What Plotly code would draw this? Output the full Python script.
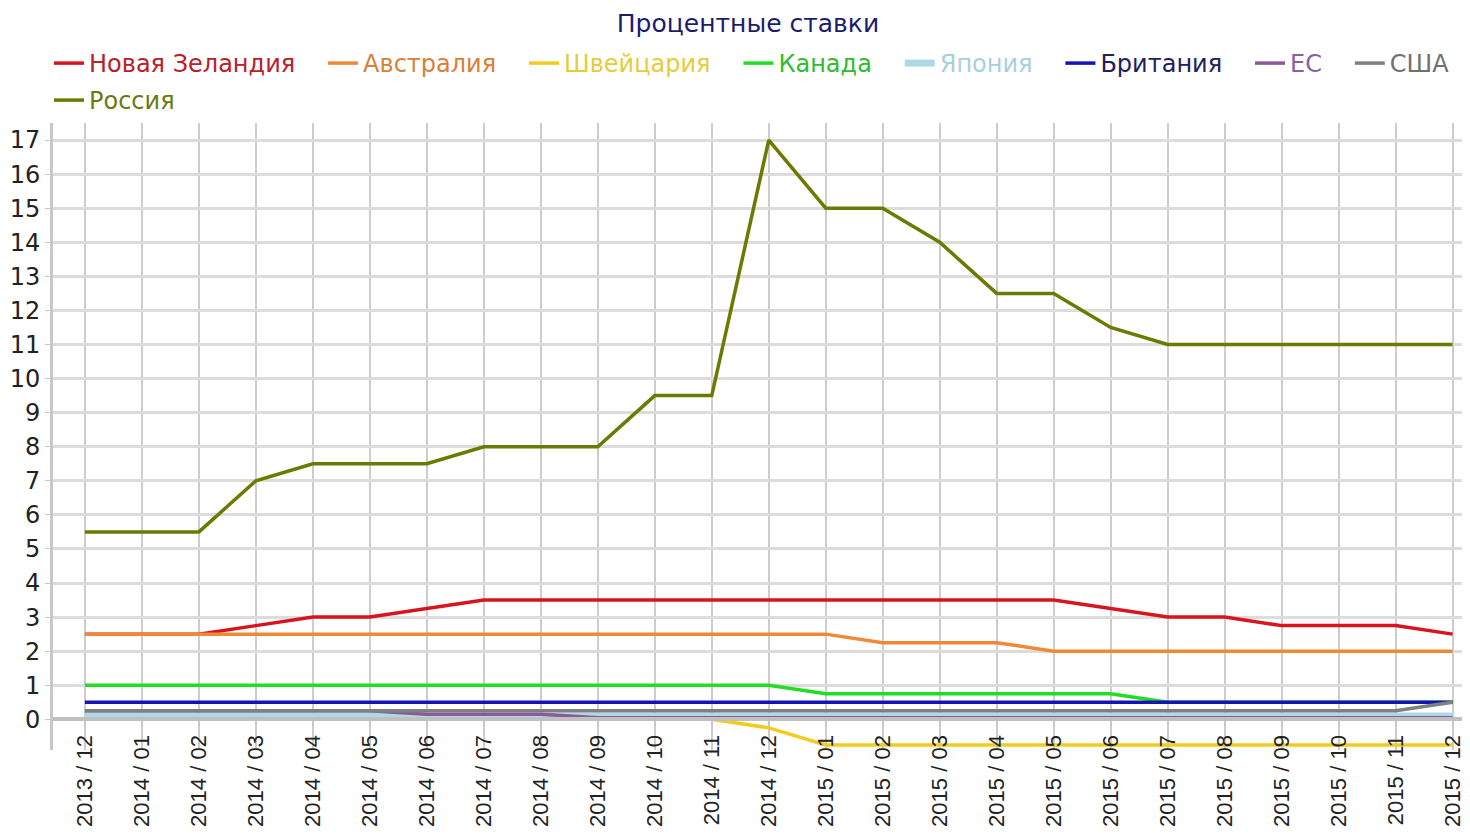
import plotly.graph_objects as go

months = ["2013 / 12", "2014 / 01", "2014 / 02", "2014 / 03", "2014 / 04", "2014 / 05",
          "2014 / 06", "2014 / 07", "2014 / 08", "2014 / 09", "2014 / 10", "2014 / 11",
          "2014 / 12", "2015 / 01", "2015 / 02", "2015 / 03", "2015 / 04", "2015 / 05",
          "2015 / 06", "2015 / 07", "2015 / 08", "2015 / 09", "2015 / 10", "2015 / 11",
          "2015 / 12"]

new_zealand = [2.5, 2.5, 2.5, 2.75, 3.0, 3.0, 3.25, 3.5, 3.5, 3.5, 3.5, 3.5, 3.5, 3.5, 3.5,
               3.5, 3.5, 3.5, 3.25, 3.0, 3.0, 2.75, 2.75, 2.75, 2.5]
australia = [2.5, 2.5, 2.5, 2.5, 2.5, 2.5, 2.5, 2.5, 2.5, 2.5, 2.5, 2.5, 2.5, 2.5, 2.25,
             2.25, 2.25, 2.0, 2.0, 2.0, 2.0, 2.0, 2.0, 2.0, 2.0]
switzerland = [0.0, 0.0, 0.0, 0.0, 0.0, 0.0, 0.0, 0.0, 0.0, 0.0, 0.0, 0.0, -0.25, -0.75, -0.75,
               -0.75, -0.75, -0.75, -0.75, -0.75, -0.75, -0.75, -0.75, -0.75, -0.75]
canada = [1.0, 1.0, 1.0, 1.0, 1.0, 1.0, 1.0, 1.0, 1.0, 1.0, 1.0, 1.0, 1.0, 0.75, 0.75,
          0.75, 0.75, 0.75, 0.75, 0.5, 0.5, 0.5, 0.5, 0.5, 0.5]
japan = [0.1] * 25
britain = [0.5] * 25
eu = [0.25, 0.25, 0.25, 0.25, 0.25, 0.25, 0.15, 0.15, 0.15, 0.05, 0.05, 0.05, 0.05, 0.05, 0.05,
      0.05, 0.05, 0.05, 0.05, 0.05, 0.05, 0.05, 0.05, 0.05, 0.05]
usa = [0.25] * 24 + [0.5]
russia = [5.5, 5.5, 5.5, 7.0, 7.5, 7.5, 7.5, 8.0, 8.0, 8.0, 9.5, 9.5, 17.0, 15.0, 15.0,
          14.0, 12.5, 12.5, 11.5, 11.0, 11.0, 11.0, 11.0, 11.0, 11.0]

series = [
    ("Новая Зеландия", new_zealand, "#d8141e", "#b8202a", "legend"),
    ("Австралия", australia, "#f08838", "#d88038", "legend"),
    ("Швейцария", switzerland, "#f2cc1c", "#e6cc3a", "legend"),
    ("Канада", canada, "#22dd22", "#30bb30", "legend"),
    ("Япония", japan, "#add8e6", "#a8cfe0", "legend"),
    ("Британия", britain, "#1414b4", "#20205e", "legend"),
    ("ЕС", eu, "#8a5a9a", "#8a60a0", "legend"),
    ("США", usa, "#808080", "#707070", "legend"),
    ("Россия", russia, "#6b7a00", "#6b7a10", "legend2"),
]

xs = list(range(len(months)))
fig = go.Figure()
for name, vals, color, tcolor, leg in series:
    width = 7 if name == "Япония" else 3.5
    pad = "" if name in ("США", "Россия") else "&nbsp;&nbsp;&nbsp;"
    fig.add_trace(go.Scatter(
        x=xs, y=vals, mode="lines", legend=leg,
        name=f'<span style="color:{tcolor}">{name}</span>{pad}',
        line=dict(color=color, width=width),
    ))

W, H = 1462, 828  # page body adds an 8px offset
ymin, ymax = -0.9, 17.5
legend_font = dict(family="DejaVu Sans", size=24)
fig.update_layout(
    width=W, height=H,
    margin=dict(l=45, r=6, t=112, b=86),
    paper_bgcolor="white", plot_bgcolor="white",
    title=dict(text="Процентные ставки", x=740 / W, xanchor="center", xref="container",
               y=1 - 15 / H, yanchor="middle", yref="container",
               font=dict(family="DejaVu Sans", size=25, color="#1c1c6e")),
    showlegend=True,
    legend=dict(orientation="h", xref="container", x=41 / W, xanchor="left",
                yref="container", y=1 - 33 / H, yanchor="top",
                font=legend_font, itemwidth=30, bgcolor="rgba(0,0,0,0)"),
    legend2=dict(orientation="h", xref="container", x=41 / W, xanchor="left",
                 yref="container", y=1 - 70 / H, yanchor="top",
                 font=legend_font, itemwidth=30, bgcolor="rgba(0,0,0,0)"),
    xaxis=dict(range=[-0.56, 24.2], tickmode="array", tickvals=xs, ticktext=months,
               tickangle=-90, anchor="free", position=(0 - ymin) / (ymax - ymin),
               showline=True, linecolor="#c0c0c0", linewidth=4,
               ticks="outside", ticklen=5, tickcolor="#c8c8c8", tickwidth=2,
               showgrid=True, gridcolor="#cdcdcd", gridwidth=2, zeroline=False,
               tickfont=dict(family="Liberation Sans", size=22, color="#222222"),
               automargin=False),
    yaxis=dict(range=[ymin, ymax], tickmode="linear", tick0=0, dtick=1,
               showline=True, linecolor="#c8c8c8", linewidth=3,
               ticks="outside", ticklen=5, tickcolor="#c8c8c8",
               showgrid=True, gridcolor="#dcdcdc", gridwidth=3, zeroline=False,
               tickfont=dict(family="DejaVu Sans", size=24, color="#222222"),
               automargin=False),
)

fig.write_html("out.html")
